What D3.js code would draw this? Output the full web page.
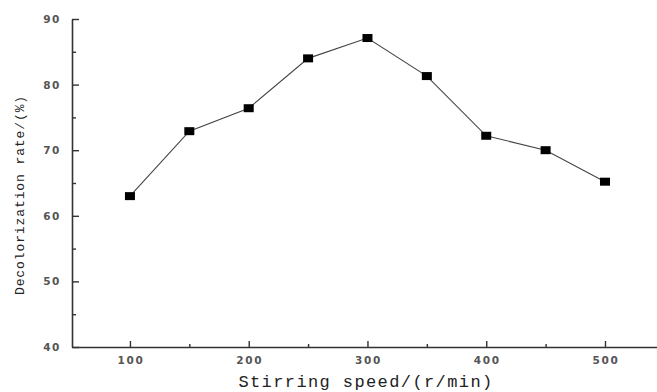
<!DOCTYPE html>
<html>
<head>
<meta charset="utf-8">
<script src="https://cdn.jsdelivr.net/npm/d3@7"></script>
<style>
  body { margin: 0; background: #fff; }
  svg { display: block; }
</style>
</head>
<body>
<svg id="svg"></svg>
<script>
////////////////////////////////////////////////////////////////////////
// Data

let speeds = [100, 150, 200, 250, 300, 350, 400, 450, 500];
let rates = [63.0, 72.9, 76.4, 84.0, 87.1, 81.3, 72.2, 70.0, 65.2];
let xTicks = [100, 200, 300, 400, 500];
let xMinor = [150, 250, 350, 450];
let yTicks = [40, 50, 60, 70, 80, 90];
let yMinor = [45, 55, 65, 75, 85];

let width = 657, height = 392;

let svg = d3.select("#svg")
            .attr("width", width)
            .attr("height", height);

// scales (axis box runs past the right edge in the original)
let x = d3.scaleLinear().domain([51.2, 543.8]).range([72, 657]);
let y = d3.scaleLinear().domain([40, 90]).range([347, 19]);

let axisColor = "#333";
let tickFont = "'DejaVu Sans', sans-serif";

////////////////////////////////////////////////////////////////////////
// Axes

// y axis, ticks pointing inward
let yAxis = svg.append("g")
  .attr("transform", "translate(" + x.range()[0] + ",0)")
  .call(d3.axisRight(y).tickValues(yTicks).tickSize(7).tickSizeOuter(0).tickFormat(""));
yAxis.append("g")
  .call(d3.axisRight(y).tickValues(yMinor).tickSize(4).tickSizeOuter(0).tickFormat(""))
  .select(".domain").remove();

// x axis, ticks pointing up
let xAxis = svg.append("g")
  .attr("transform", "translate(0," + y.range()[0] + ")")
  .call(d3.axisTop(x).tickValues(xTicks).tickSize(6).tickSizeOuter(0).tickFormat(""));
xAxis.append("g")
  .call(d3.axisTop(x).tickValues(xMinor).tickSize(3).tickSizeOuter(0).tickFormat(""))
  .select(".domain").remove();

svg.selectAll(".domain, .tick line")
   .attr("stroke", axisColor)
   .attr("stroke-width", 1.4);
svg.selectAll(".domain").attr("stroke-width", 1.6);

// tick labels
svg.append("g").selectAll("text")
  .data(yTicks)
  .enter().append("text")
  .attr("x", 61)
  .attr("y", d => y(d) + 4)
  .attr("text-anchor", "end")
  .attr("font-family", tickFont)
  .attr("font-weight", "bold")
  .attr("font-size", 10.5)
  .attr("letter-spacing", 1.6)
  .attr("fill", "#555")
  .text(d => d);

svg.append("g").selectAll("text")
  .data(xTicks)
  .enter().append("text")
  .attr("x", d => x(d) + 1)
  .attr("y", 364)
  .attr("text-anchor", "middle")
  .attr("font-family", tickFont)
  .attr("font-weight", "bold")
  .attr("font-size", 10.5)
  .attr("letter-spacing", 1.6)
  .attr("fill", "#555")
  .text(d => d);

// axis titles
svg.append("text")
  .attr("x", 366)
  .attr("y", 387)
  .attr("text-anchor", "middle")
  .attr("font-family", "'Liberation Mono', monospace")
  .attr("font-size", 17)
  .attr("letter-spacing", 1.4)
  .attr("fill", "#222")
  .text("Stirring speed/(r/min)");

svg.append("text")
  .attr("transform", "translate(24,195) rotate(-90)")
  .attr("text-anchor", "middle")
  .attr("font-family", "'Liberation Mono', monospace")
  .attr("font-size", 13)
  .attr("letter-spacing", 0.9)
  .attr("fill", "#222")
  .text("Decolorization rate/(%)");

////////////////////////////////////////////////////////////////////////
// Line and markers

let pts = speeds.map((s, i) => [s, rates[i]]);

svg.append("path")
  .datum(pts)
  .attr("fill", "none")
  .attr("stroke", "#444")
  .attr("stroke-width", 1.1)
  .attr("d", d3.line().x(d => x(d[0])).y(d => y(d[1])));

svg.append("g").selectAll("rect")
  .data(pts)
  .enter().append("rect")
  .attr("x", d => x(d[0]) - 5)
  .attr("y", d => y(d[1]) - 4)
  .attr("width", 10)
  .attr("height", 8)
  .attr("fill", "#000");
</script>
</body>
</html>
